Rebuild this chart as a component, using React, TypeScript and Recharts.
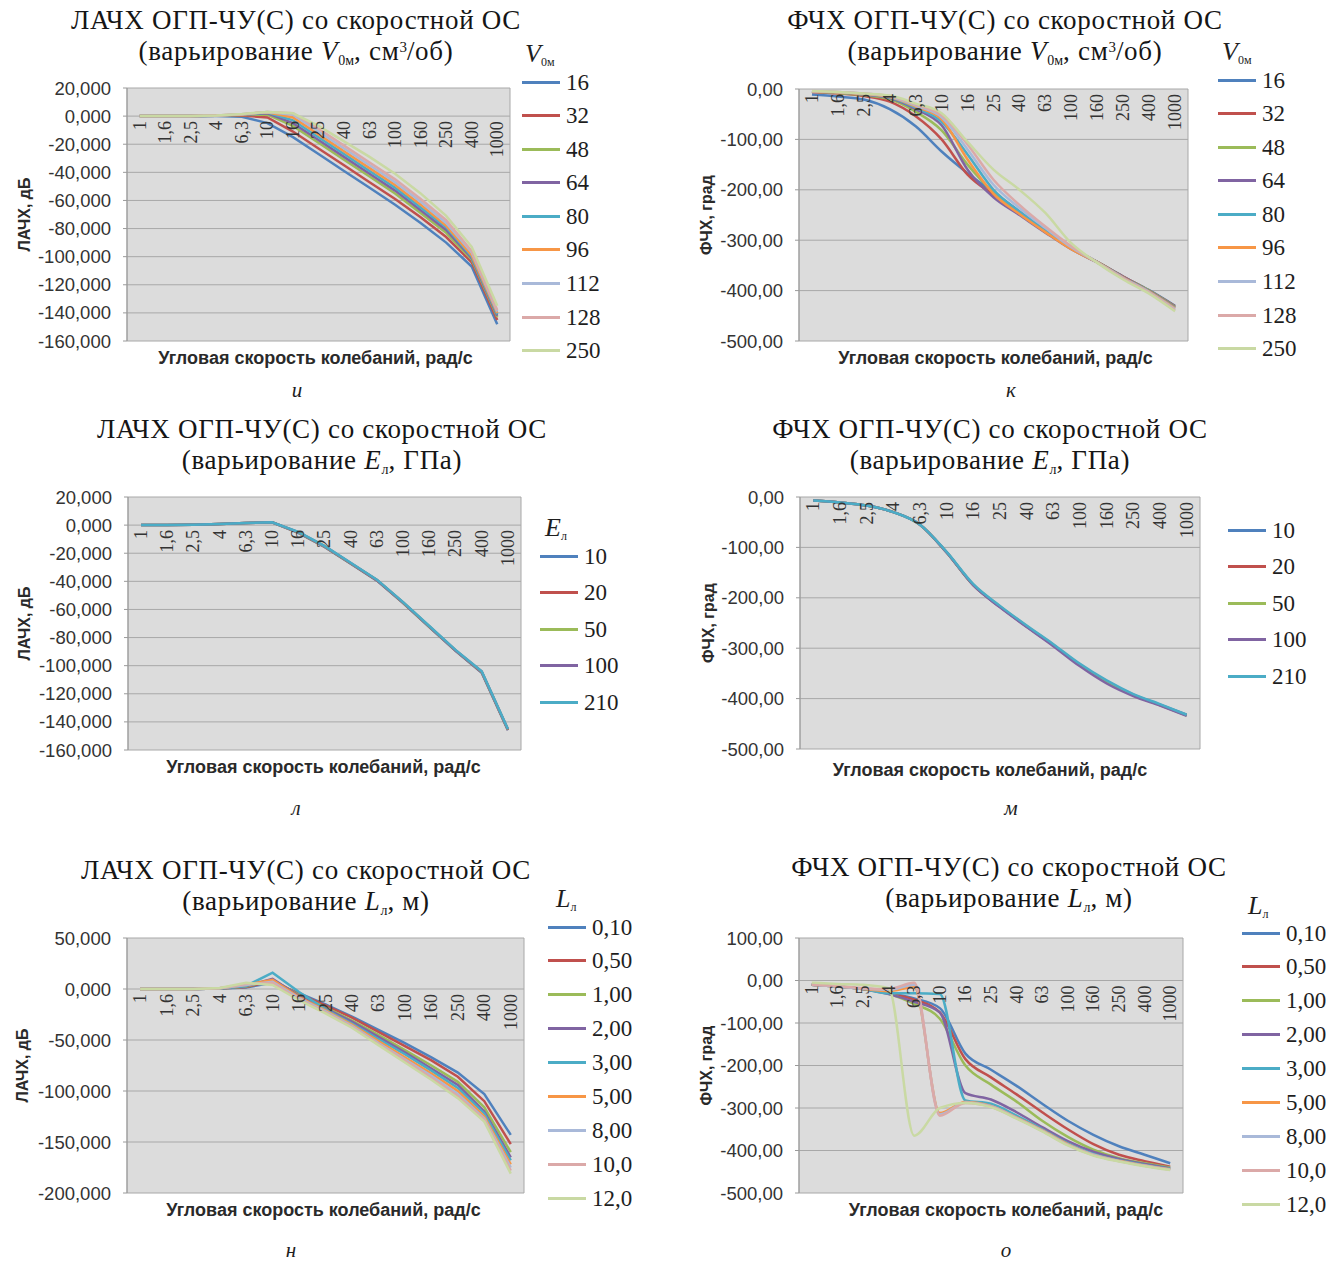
import React from 'react';
import { LineChart, Line, XAxis, YAxis, CartesianGrid, Legend, LabelList } from 'recharts';

const SERIF = '"Liberation Serif", "Times New Roman", serif';
const SANS = '"Liberation Sans", Arial, sans-serif';

// ---------- categories & tick labels ----------
const categories = ['1', '1,6', '2,5', '4', '6,3', '10', '16', '25', '40', '63', '100', '160', '250', '400', '1000'];
const ampTicks20 = [20, 0, -20, -40, -60, -80, -100, -120, -140, -160];
const phaseTicks0 = [0, -100, -200, -300, -400, -500];
const ampTicks50 = [50, 0, -50, -100, -150, -200];
const phaseTicks100 = [100, 0, -100, -200, -300, -400, -500];

// ---------- series names ----------
const vNames = ['16', '32', '48', '64', '80', '96', '112', '128', '250'];
const eNames = ['10', '20', '50', '100', '210'];
const lNames = ['0,10', '0,50', '1,00', '2,00', '3,00', '5,00', '8,00', '10,0', '12,0'];

const colors9 = ['#4F81BD', '#C0504D', '#9BBB59', '#8064A2', '#4BACC6', '#F79646', '#A9B9D9', '#DBA9A8', '#C9D9A3'];

// ---------- chart и : ЛАЧХ, varying V0м ----------
const lachV = [
  [0, 0, 0, 0, -0.5, -5, -15, -27, -39, -51, -63, -76, -90, -107, -148],
  [0, 0, 0, 0.2, 0.5, -1, -11, -23, -35, -47, -59, -72, -86, -104, -145],
  [0, 0, 0, 0.3, 0.8, 1, -7, -19, -31, -43, -55, -69, -83, -102, -143],
  [0, 0, 0, 0.3, 1, 2, -5, -17, -29, -41, -53, -67, -81, -101, -142],
  [0, 0, 0, 0.3, 1.1, 2.5, -3, -15, -27, -39, -51, -65, -79, -100, -141],
  [0, 0, 0, 0.4, 1.2, 2.8, -1, -13, -25, -37, -49, -63, -78, -99, -140],
  [0, 0, 0, 0.4, 1.3, 3, 1, -11, -23, -35, -47, -61, -76, -97, -139],
  [0, 0, 0, 0.4, 1.4, 3, 2, -9, -21, -33, -45, -59, -74, -96, -138],
  [0, 0, 0, 0.5, 1.5, 3, 2, -7, -18, -29, -41, -55, -71, -93, -135],
];

// ---------- chart к : ФЧХ, varying V0м ----------
const fchV = [
  [-11, -15, -21, -40, -74, -124, -167, -205, -243, -280, -315, -343, -372, -399, -430],
  [-6, -9, -14, -25, -54, -100, -170, -210, -246, -282, -316, -343, -372, -400, -431],
  [-5, -8, -12, -20, -45, -82, -150, -205, -245, -282, -317, -343, -373, -400, -432],
  [-5, -7, -11, -18, -40, -72, -160, -215, -250, -285, -318, -344, -373, -401, -433],
  [-5, -7, -10, -17, -37, -65, -130, -200, -243, -281, -316, -344, -374, -402, -434],
  [-5, -7, -10, -16, -35, -60, -140, -208, -248, -284, -318, -344, -374, -402, -435],
  [-4, -6, -9, -15, -33, -56, -120, -190, -236, -276, -314, -344, -375, -403, -437],
  [-4, -6, -9, -14, -31, -52, -110, -180, -230, -273, -312, -344, -376, -404, -439],
  [-4, -6, -9, -13, -29, -48, -105, -160, -200, -246, -306, -345, -378, -406, -441],
];

// ---------- chart л : ЛАЧХ, varying Eл ----------
const lachE = [
  [0, 0, 0.3, 0.8, 1.5, 2, -5.5, -15.5, -27.5, -39.5, -55.5, -72.5, -89.5, -105, -146],
  [0, 0, 0.3, 0.8, 1.5, 2, -5.3, -15.3, -27.3, -39.3, -55.3, -72.3, -89.3, -104.7, -145.7],
  [0, 0, 0.3, 0.8, 1.5, 2, -5.1, -15.1, -27.1, -39.1, -55.1, -72.1, -89.1, -104.4, -145.4],
  [0, 0, 0.3, 0.8, 1.5, 2, -5, -15, -27, -39, -55, -72, -89, -104.2, -145.2],
  [0, 0, 0.3, 0.8, 1.5, 2, -4.8, -14.8, -26.8, -38.8, -54.8, -71.8, -88.8, -104, -145],
];

// ---------- chart м : ФЧХ, varying Eл ----------
const fchE = [
  [-7, -11, -17, -30, -55, -110, -175, -218, -257, -294, -333, -366, -392, -412, -432],
  [-7, -11, -17, -30, -55, -110, -175, -218, -257, -294, -334, -367, -393, -413, -433],
  [-7, -11, -17, -30, -55, -110, -174, -217, -256, -293, -333, -367, -393, -413, -433],
  [-7, -11, -17, -30, -55, -110, -175, -219, -258, -296, -336, -370, -395, -414, -434],
  [-7, -11, -17, -30, -55, -109, -173, -216, -255, -292, -331, -364, -391, -411, -432],
];

// ---------- chart н : ЛАЧХ, varying Lл ----------
const lachL = [
  [0, 0, 0, 0.5, 1.5, 6, -4, -15, -27, -40, -53, -67, -82, -103, -143],
  [0, 0, 0, 0.5, 2, 8, -5, -16, -28, -42, -56, -70, -86, -110, -152],
  [0, 0, 0, 0.5, 2.5, 9, -6, -18, -31, -45, -60, -75, -91, -116, -160],
  [0, 0, 0, 0.6, 3, 10, -7, -19, -32, -47, -62, -78, -94, -120, -165],
  [0, 0, 0, 0.6, 3, 16, -3, -20, -34, -49, -64, -80, -97, -122, -168],
  [0, 0, 0, 0.7, 4, 9, -8, -21, -35, -51, -67, -83, -100, -125, -172],
  [0, 0, 0, 0.7, 4, 7, -9, -22, -36, -53, -69, -85, -103, -127, -175],
  [0, 0, 0, 0.8, 5, 6, -10, -23, -37, -54, -70, -87, -105, -128, -178],
  [0, 0, 0, 1, 6, 4, -11, -24, -38, -55, -72, -89, -107, -130, -181],
];

// ---------- chart о : ФЧХ, varying Lл ----------
const fchL = [
  [-10, -14, -20, -30, -42, -65, -172, -210, -248, -290, -330, -363, -390, -410, -430],
  [-10, -14, -20, -30, -45, -75, -185, -228, -268, -310, -350, -385, -410, -425, -438],
  [-10, -14, -20, -31, -55, -90, -200, -245, -285, -330, -368, -398, -418, -430, -440],
  [-10, -14, -20, -32, -50, -75, -265, -280, -310, -345, -378, -403, -420, -432, -442],
  [-10, -14, -20, -30, -30, -32, -282, -290, -318, -350, -383, -408, -423, -434, -443],
  [-10, -14, -20, -25, -15, -312, -286, -295, -322, -352, -385, -410, -424, -435, -444],
  [-10, -14, -19, -22, -10, -315, -287, -296, -323, -353, -386, -410, -425, -436, -445],
  [-10, -13, -18, -20, -5, -318, -288, -297, -324, -354, -387, -411, -425, -436, -445],
  [-5, -8, -10, -18, -365, -300, -288, -298, -325, -355, -388, -412, -426, -437, -446],
];

// ---------- helpers ----------
function buildRows(values: number[][]) {
  return categories.map((cat, i) => {
    const row: Record<string, any> = { cat, pos: i + 0.5, zero: 0 };
    values.forEach((s, k) => {
      row['s' + k] = s[i];
    });
    return row;
  });
}

const gridTicks = Array.from({ length: categories.length + 1 }, (_, i) => i);

const CatLabel = (props: any) => {
  const { x, y, value } = props;
  if (x == null || y == null) return null;
  const yy = y + 5;
  return (
    <text
      x={x}
      y={yy}
      transform={`rotate(-90 ${x} ${yy})`}
      textAnchor="end"
      dominantBaseline="central"
      fontSize={18}
      fontFamily={SERIF}
      fill="#333333"
    >
      {value}
    </text>
  );
};

type LegendCfg = {
  x: number;
  y: number; // center of first row
  rowH: number;
  header?: React.ReactNode;
  hx?: number;
  hy?: number;
};

type Cfg = {
  names: string[];
  values: number[][];
  yTicks: number[];
  decimals: number;
  yTitle: string;
  curve: 'linear' | 'monotone';
  plotL: number;
  plotR: number;
  plotT: number;
  plotB: number;
  yTitleX: number;
  xTitleY: number;
  xTitleDx: number;
  legend: LegendCfg;
};

const hdr = (letter: string, sub: string) => (
  <span style={{ whiteSpace: 'nowrap', lineHeight: '26px', display: 'inline-block', height: 26 }}>
    <i style={{ fontSize: 26 }}>{letter}</i>
    <span style={{ fontSize: 12, position: 'relative', top: 4 }}>{sub}</span>
  </span>
);

function Panel({ cfg }: { cfg: Cfg }) {
  const mt = 12;
  const yW = cfg.plotL - cfg.yTitleX + 10;
  const plotW = cfg.plotR - cfg.plotL;
  const plotH = cfg.plotB - cfg.plotT;
  const xAxisH = 40;
  const width = yW + plotW + 10;
  const height = mt + plotH + xAxisH + 5;
  const left = cfg.plotL - yW;
  const top = cfg.plotT - mt;
  const rows = buildRows(cfg.values);
  const yMin = Math.min(...cfg.yTicks);
  const yMax = Math.max(...cfg.yTicks);
  const lg = cfg.legend;
  const legendTop = lg.y - lg.rowH / 2;

  const renderLegend = (props: any) => {
    const items = (props.payload || [])
      .filter((p: any) => p.type !== 'none')
      .slice()
      .sort((a: any, b: any) => cfg.names.indexOf(String(a.value)) - cfg.names.indexOf(String(b.value)));
    return (
      <div style={{ position: 'relative', fontFamily: SERIF, fontSize: 23, color: '#1e1e1e' }}>
        {lg.header ? (
          <div style={{ position: 'absolute', left: lg.hx, top: lg.hy, height: 26 }}>{lg.header}</div>
        ) : null}
        {items.map((it: any) => (
          <div key={String(it.value)} style={{ height: lg.rowH, display: 'flex', alignItems: 'center' }}>
            <span style={{ display: 'inline-block', width: 38, height: 3, background: it.color, marginRight: 6 }} />
            <span style={{ lineHeight: 1 }}>{it.value}</span>
          </div>
        ))}
      </div>
    );
  };

  return (
    <div style={{ position: 'absolute', left, top }}>
      <LineChart width={width} height={height} data={rows} margin={{ top: mt, right: 10, bottom: 5, left: 0 }}>
        <CartesianGrid fill="#dcdcdc" fillOpacity={1} stroke="#a8a8a8" strokeWidth={1} />
        <XAxis
          type="number"
          dataKey="pos"
          domain={[0, categories.length]}
          ticks={gridTicks}
          tick={false}
          tickLine={false}
          axisLine={false}
          height={xAxisH}
          label={{
            value: 'Угловая скорость колебаний, рад/с',
            position: 'insideTop',
            offset: cfg.xTitleY - cfg.plotB - 7,
            dx: cfg.xTitleDx,
            fontFamily: SANS,
            fontSize: 18,
            fontWeight: 700,
            fill: '#2a2a2a',
          }}
        />
        <YAxis
          type="number"
          domain={[yMin, yMax]}
          ticks={cfg.yTicks}
          interval={0}
          width={yW}
          tickFormatter={(v: number) => v.toFixed(cfg.decimals).replace('.', ',')}
          tick={{ fontSize: 18.5, fontFamily: SANS, fill: '#333333' }}
          tickSize={4}
          tickMargin={12}
          axisLine={{ stroke: '#9a9a9a' }}
          tickLine={{ stroke: '#9a9a9a' }}
          label={{
            value: cfg.yTitle,
            angle: -90,
            position: 'insideLeft',
            offset: 10,
            fontFamily: SANS,
            fontSize: 16,
            fontWeight: 700,
            fill: '#2a2a2a',
            style: { textAnchor: 'middle' },
          }}
        />
        <Line dataKey="zero" stroke="none" dot={false} activeDot={false} legendType="none" isAnimationActive={false}>
          <LabelList dataKey="cat" content={CatLabel} />
        </Line>
        {cfg.names.map((name, k) => (
          <Line
            key={name}
            type={cfg.curve}
            dataKey={'s' + k}
            name={name}
            stroke={colors9[k]}
            strokeWidth={2.5}
            dot={false}
            activeDot={false}
            isAnimationActive={false}
          />
        ))}
        <Legend
          layout="vertical"
          align="center"
          verticalAlign="middle"
          content={renderLegend}
          wrapperStyle={{ position: 'absolute', left: lg.x - left, top: legendTop - top, width: 120, height: 'auto' }}
        />
      </LineChart>
    </div>
  );
}

const titleLine: React.CSSProperties = {
  position: 'absolute',
  left: 0,
  width: '100%',
  height: 31,
  lineHeight: '31px',
  textAlign: 'center',
  whiteSpace: 'nowrap',
};

function Title({ cx, cy, line1, line2 }: { cx: number; cy: number; line1: string; line2: React.ReactNode }) {
  return (
    <div
      style={{
        position: 'absolute',
        left: cx - 330,
        width: 660,
        top: cy - 16,
        height: 62,
        fontFamily: SERIF,
        fontSize: 27,
        letterSpacing: 0.7,
        color: '#151515',
      }}
    >
      <div style={{ ...titleLine, top: 0 }}>{line1}</div>
      <div style={{ ...titleLine, top: 31 }}>{line2}</div>
    </div>
  );
}

const Sub = ({ children }: { children: React.ReactNode }) => (
  <span style={{ fontSize: 14, position: 'relative', top: 5, lineHeight: 0, letterSpacing: 0 }}>{children}</span>
);
const Sup = ({ children }: { children: React.ReactNode }) => (
  <span style={{ fontSize: 15, position: 'relative', top: -8, lineHeight: 0, letterSpacing: 0 }}>{children}</span>
);

function Caption({ cx, cy, text }: { cx: number; cy: number; text: string }) {
  return (
    <div
      style={{
        position: 'absolute',
        left: cx - 20,
        width: 40,
        top: cy - 12,
        textAlign: 'center',
        fontFamily: SERIF,
        fontStyle: 'italic',
        fontSize: 21,
        lineHeight: '24px',
        color: '#1e1e1e',
      }}
    >
      {text}
    </div>
  );
}

const cfgI: Cfg = {
  names: vNames, values: lachV, yTicks: ampTicks20, decimals: 3, yTitle: 'ЛАЧХ, дБ', curve: 'linear',
  plotL: 127, plotR: 510, plotT: 88, plotB: 341, yTitleX: 24, xTitleY: 358, xTitleDx: -3,
  legend: { x: 522, y: 82, rowH: 33.6, header: hdr('V', '0м'), hx: 3, hy: -24 },
};
const cfgK: Cfg = {
  names: vNames, values: fchV, yTicks: phaseTicks0, decimals: 2, yTitle: 'ФЧХ, град', curve: 'monotone',
  plotL: 799, plotR: 1188, plotT: 89, plotB: 341, yTitleX: 706, xTitleY: 358, xTitleDx: 2,
  legend: { x: 1218, y: 80, rowH: 33.6, header: hdr('V', '0м'), hx: 4, hy: -24 },
};
const cfgL: Cfg = {
  names: eNames, values: lachE, yTicks: ampTicks20, decimals: 3, yTitle: 'ЛАЧХ, дБ', curve: 'linear',
  plotL: 128, plotR: 521, plotT: 497, plotB: 750, yTitleX: 24, xTitleY: 767, xTitleDx: -1,
  legend: { x: 540, y: 556, rowH: 36.5, header: hdr('E', 'л'), hx: 5, hy: -23 },
};
const cfgM: Cfg = {
  names: eNames, values: fchE, yTicks: phaseTicks0, decimals: 2, yTitle: 'ФЧХ, град', curve: 'monotone',
  plotL: 800, plotR: 1200, plotT: 497, plotB: 749, yTitleX: 708, xTitleY: 770, xTitleDx: -10,
  legend: { x: 1228, y: 530, rowH: 36.5 },
};
const cfgN: Cfg = {
  names: lNames, values: lachL, yTicks: ampTicks50, decimals: 3, yTitle: 'ЛАЧХ, дБ', curve: 'linear',
  plotL: 127, plotR: 524, plotT: 938, plotB: 1193, yTitleX: 22, xTitleY: 1210, xTitleDx: -2,
  legend: { x: 548, y: 927, rowH: 33.9, header: hdr('L', 'л'), hx: 8, hy: -24 },
};
const cfgO: Cfg = {
  names: lNames, values: fchL, yTicks: phaseTicks100, decimals: 2, yTitle: 'ФЧХ, град', curve: 'monotone',
  plotL: 799, plotR: 1183, plotT: 938, plotB: 1193, yTitleX: 706, xTitleY: 1210, xTitleDx: 15,
  legend: { x: 1242, y: 933, rowH: 33.9, header: hdr('L', 'л'), hx: 6, hy: -23 },
};

export default function App() {
  return (
    <div
      style={{
        position: 'relative',
        width: 1338,
        height: 1261,
        margin: '-8px 0 0 -8px',
        background: '#ffffff',
        overflow: 'hidden',
      }}
    >
      <Title cx={296} cy={21} line1="ЛАЧХ ОГП-ЧУ(С) со скоростной ОС"
        line2={<span>(варьирование <i>V</i><Sub>0м</Sub>, см<Sup>3</Sup>/об)</span>} />
      <Title cx={1005} cy={21} line1="ФЧХ ОГП-ЧУ(С) со скоростной ОС"
        line2={<span>(варьирование <i>V</i><Sub>0м</Sub>, см<Sup>3</Sup>/об)</span>} />
      <Title cx={322} cy={430} line1="ЛАЧХ ОГП-ЧУ(С) со скоростной ОС"
        line2={<span>(варьирование <i>E</i><Sub>л</Sub>, ГПа)</span>} />
      <Title cx={990} cy={430} line1="ФЧХ ОГП-ЧУ(С) со скоростной ОС"
        line2={<span>(варьирование <i>E</i><Sub>л</Sub>, ГПа)</span>} />
      <Title cx={306} cy={871} line1="ЛАЧХ ОГП-ЧУ(С) со скоростной ОС"
        line2={<span>(варьирование <i>L</i><Sub>л</Sub>, м)</span>} />
      <Title cx={1009} cy={868} line1="ФЧХ ОГП-ЧУ(С) со скоростной ОС"
        line2={<span>(варьирование <i>L</i><Sub>л</Sub>, м)</span>} />

      <Panel cfg={cfgI} />
      <Panel cfg={cfgK} />
      <Panel cfg={cfgL} />
      <Panel cfg={cfgM} />
      <Panel cfg={cfgN} />
      <Panel cfg={cfgO} />

      <Caption cx={297} cy={390} text="и" />
      <Caption cx={1011} cy={390} text="к" />
      <Caption cx={296} cy={808} text="л" />
      <Caption cx={1011} cy={808} text="м" />
      <Caption cx={291} cy={1250} text="н" />
      <Caption cx={1006} cy={1250} text="о" />
    </div>
  );
}
